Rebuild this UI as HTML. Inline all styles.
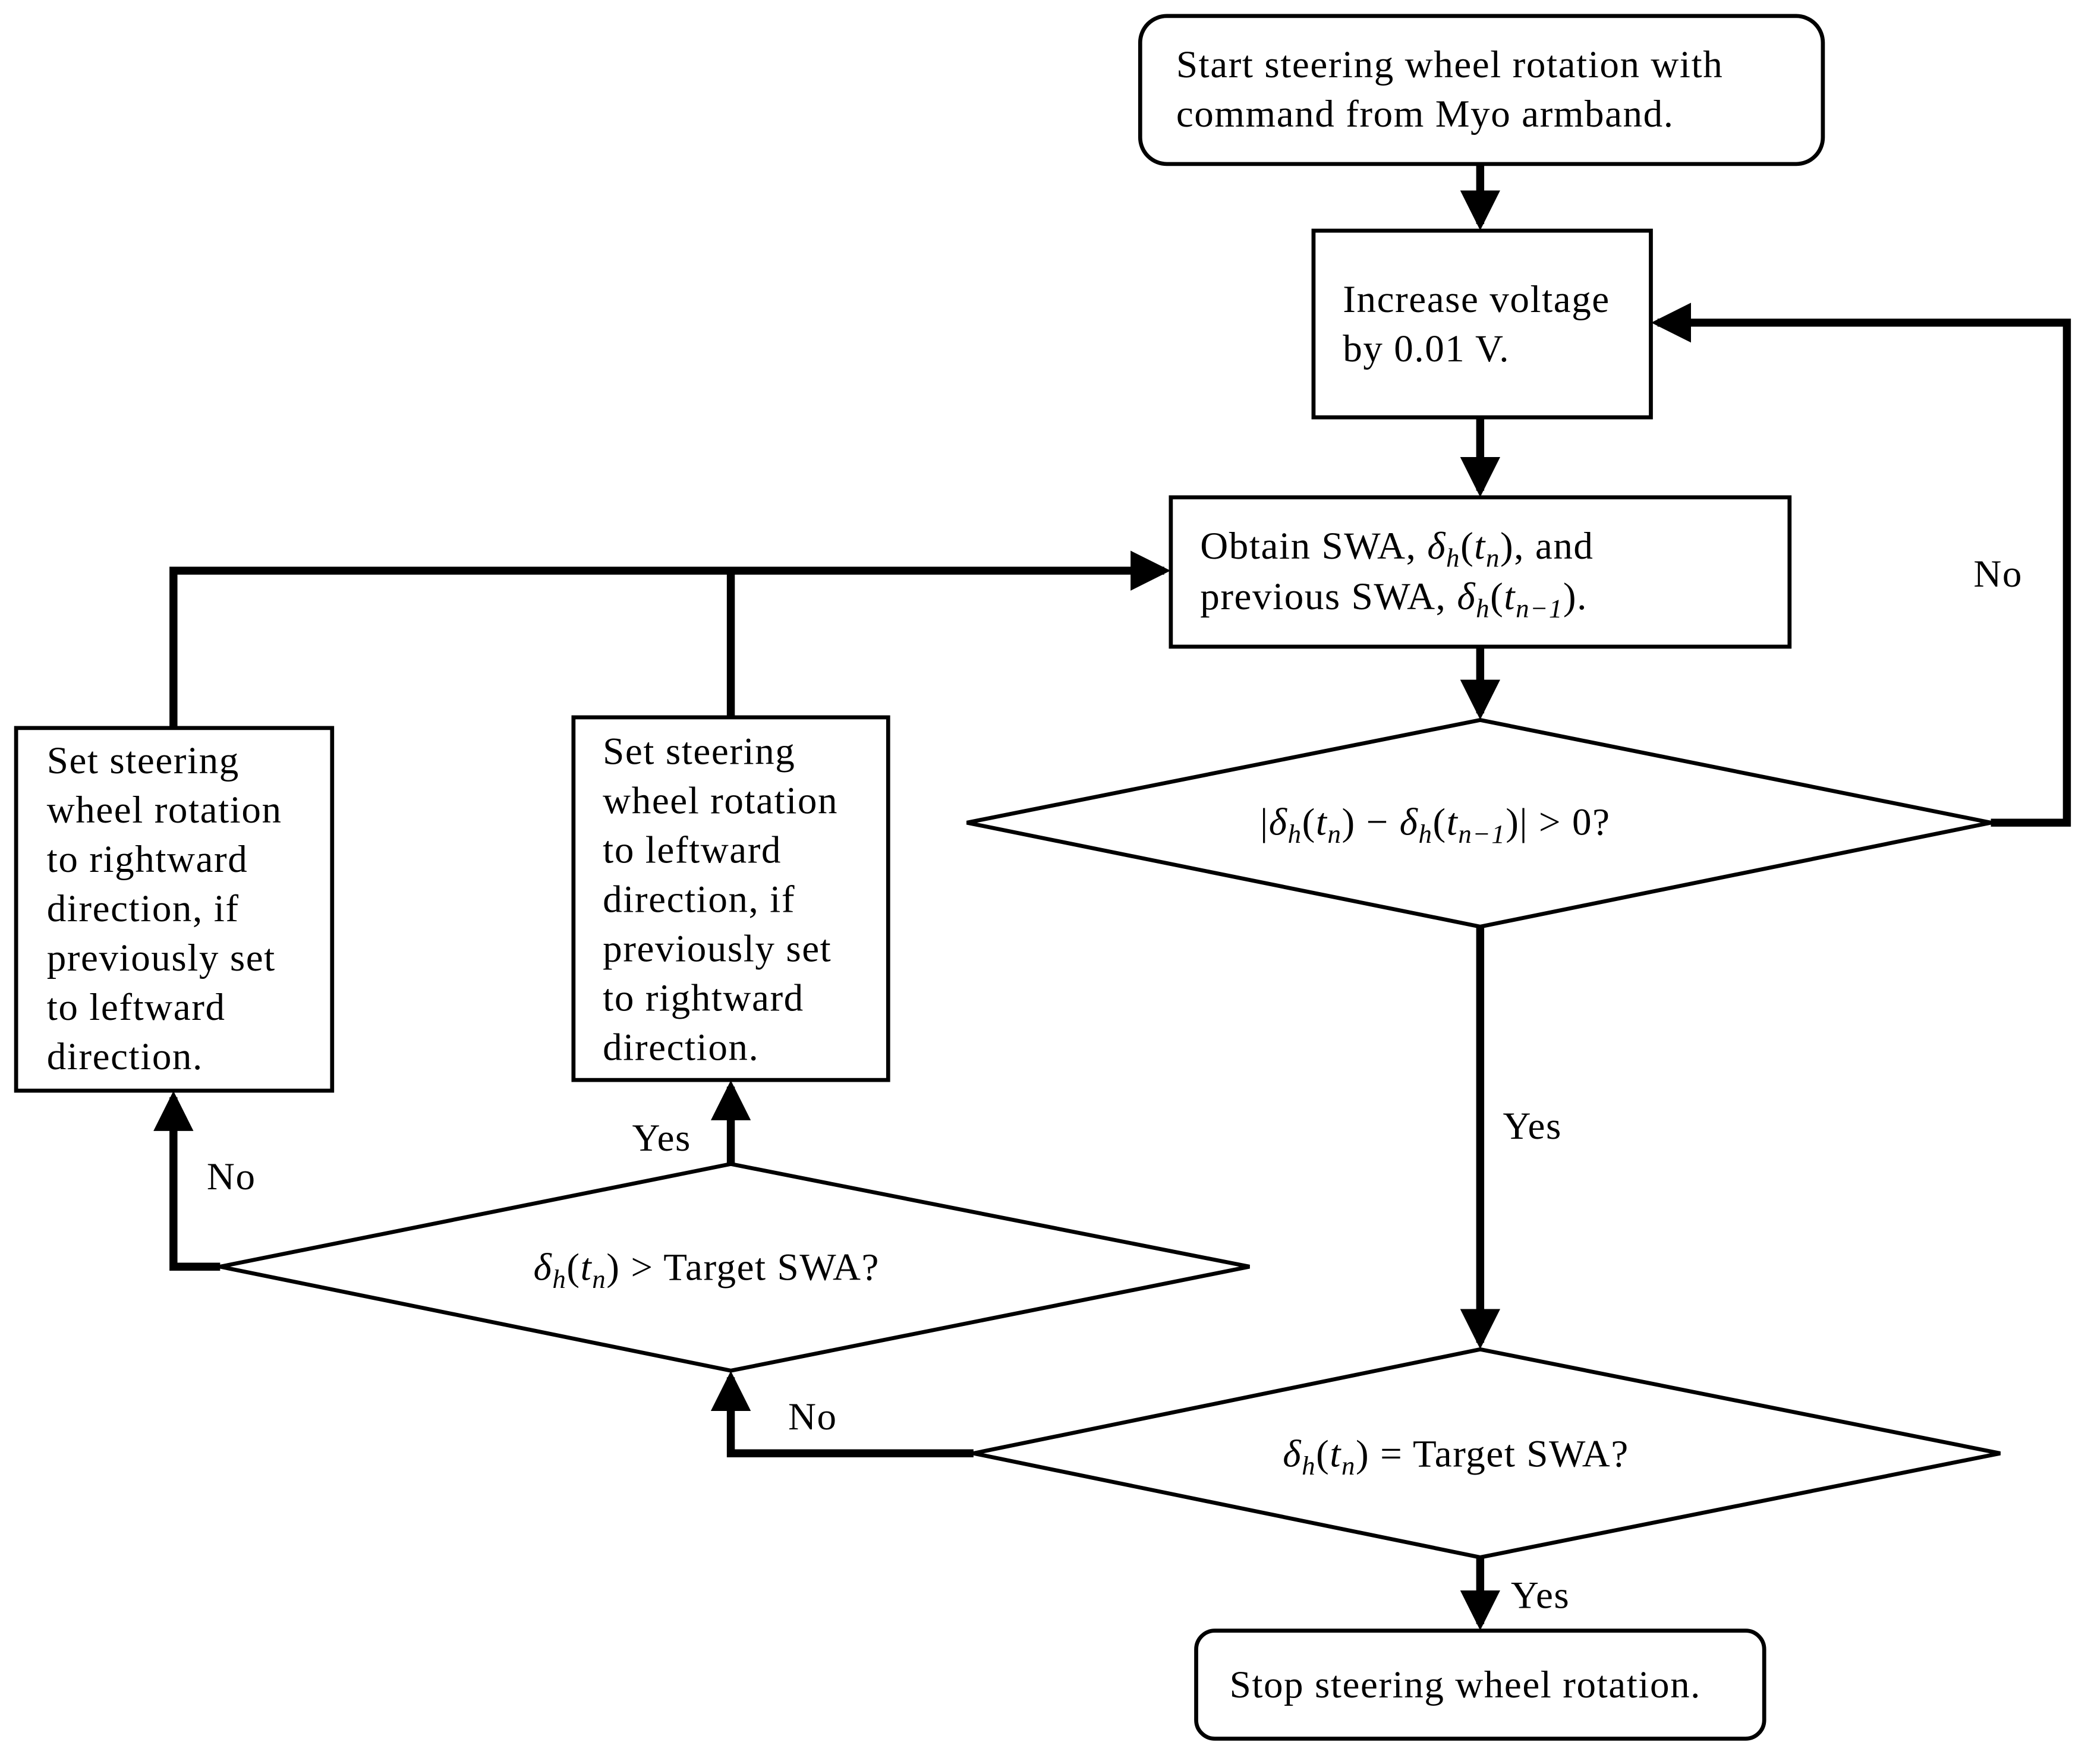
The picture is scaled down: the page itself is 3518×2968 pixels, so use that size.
<!DOCTYPE html>
<html><head><meta charset="utf-8"><style>
html,body{margin:0;padding:0;background:#fff}
svg{display:block}
text{font-family:"Liberation Serif",serif;font-size:29px;letter-spacing:0.7px;fill:#000}
.i{font-style:italic}
</style></head><body>
<svg width="3518" height="2968" viewBox="0 0 1568 1323" xmlns="http://www.w3.org/2000/svg">
<defs>
<marker id="a" markerWidth="5" markerHeight="5" refX="4.2" refY="2.5" orient="auto" markerUnits="strokeWidth">
<path d="M0,0 L5,2.5 L0,5 z" fill="#000"/></marker>
</defs>
<g fill="none" stroke="#000" stroke-width="3">
<rect x="855" y="12" width="512" height="111" rx="20"/>
<rect x="985" y="173" width="253" height="140"/>
<rect x="878" y="373" width="464" height="112"/>
<polygon points="1110,540 1493,617 1110,695 725,617"/>
<polygon points="1110,1012 1500,1090 1110,1168 730,1090"/>
<polygon points="548,873 937,950 548,1028 165,950"/>
<rect x="897" y="1223" width="426" height="81" rx="14"/>
<rect x="12" y="546" width="237" height="272"/>
<rect x="430" y="538" width="236" height="272"/>
</g>
<g fill="none" stroke="#000" stroke-width="6">
<line x1="1110" y1="123" x2="1110" y2="168" marker-end="url(#a)"/>
<line x1="1110" y1="313" x2="1110" y2="368" marker-end="url(#a)"/>
<line x1="1110" y1="485" x2="1110" y2="535" marker-end="url(#a)"/>
<polyline points="1493,617 1550,617 1550,242 1243,242" marker-end="url(#a)"/>
<line x1="1110" y1="695" x2="1110" y2="1007" marker-end="url(#a)"/>
<line x1="1110" y1="1168" x2="1110" y2="1218" marker-end="url(#a)"/>
<polyline points="730,1090 548,1090 548,1033" marker-end="url(#a)"/>
<line x1="548" y1="873" x2="548" y2="815" marker-end="url(#a)"/>
<polyline points="165,950 130,950 130,823" marker-end="url(#a)"/>
<polyline points="130,546 130,428 873,428" marker-end="url(#a)"/>
<line x1="548" y1="538" x2="548" y2="428"/>
</g>
<text x="882" y="58">Start steering wheel rotation with</text>
<text x="882" y="95">command from Myo armband.</text>
<text x="1007" y="234">Increase voltage</text>
<text x="1007" y="271">by 0.01 V.</text>
<text x="900" y="419">Obtain SWA, <tspan class="i">δ</tspan><tspan class="i" font-size="20" dy="6">h</tspan><tspan dy="-6">(</tspan><tspan class="i">t</tspan><tspan class="i" font-size="20" dy="6">n</tspan><tspan dy="-6">), and</tspan></text>
<text x="900" y="457">previous SWA, <tspan class="i">δ</tspan><tspan class="i" font-size="20" dy="6">h</tspan><tspan dy="-6">(</tspan><tspan class="i">t</tspan><tspan class="i" font-size="20" dy="6">n−1</tspan><tspan dy="-6">).</tspan></text>
<text x="945" y="626">|<tspan class="i">δ</tspan><tspan class="i" font-size="20" dy="6">h</tspan><tspan dy="-6">(</tspan><tspan class="i">t</tspan><tspan class="i" font-size="20" dy="6">n</tspan><tspan dy="-6">) − </tspan><tspan class="i">δ</tspan><tspan class="i" font-size="20" dy="6">h</tspan><tspan dy="-6">(</tspan><tspan class="i">t</tspan><tspan class="i" font-size="20" dy="6">n−1</tspan><tspan dy="-6">)| &gt; 0?</tspan></text>
<text x="962" y="1100"><tspan class="i">δ</tspan><tspan class="i" font-size="20" dy="6">h</tspan><tspan dy="-6">(</tspan><tspan class="i">t</tspan><tspan class="i" font-size="20" dy="6">n</tspan><tspan dy="-6">) = Target SWA?</tspan></text>
<text x="400" y="960"><tspan class="i">δ</tspan><tspan class="i" font-size="20" dy="6">h</tspan><tspan dy="-6">(</tspan><tspan class="i">t</tspan><tspan class="i" font-size="20" dy="6">n</tspan><tspan dy="-6">) &gt; Target SWA?</tspan></text>
<text x="922" y="1273">Stop steering wheel rotation.</text>
<text x="35" y="580">Set steering</text>
<text x="35" y="617">wheel rotation</text>
<text x="35" y="654">to rightward</text>
<text x="35" y="691">direction, if</text>
<text x="35" y="728">previously set</text>
<text x="35" y="765">to leftward</text>
<text x="35" y="802">direction.</text>
<text x="452" y="573">Set steering</text>
<text x="452" y="610">wheel rotation</text>
<text x="452" y="647">to leftward</text>
<text x="452" y="684">direction, if</text>
<text x="452" y="721">previously set</text>
<text x="452" y="758">to rightward</text>
<text x="452" y="795">direction.</text>
<text x="1480" y="440">No</text>
<text x="1127" y="854">Yes</text>
<text x="1133" y="1206">Yes</text>
<text x="591" y="1072">No</text>
<text x="474" y="863">Yes</text>
<text x="155" y="892">No</text>
</svg>
</body></html>
